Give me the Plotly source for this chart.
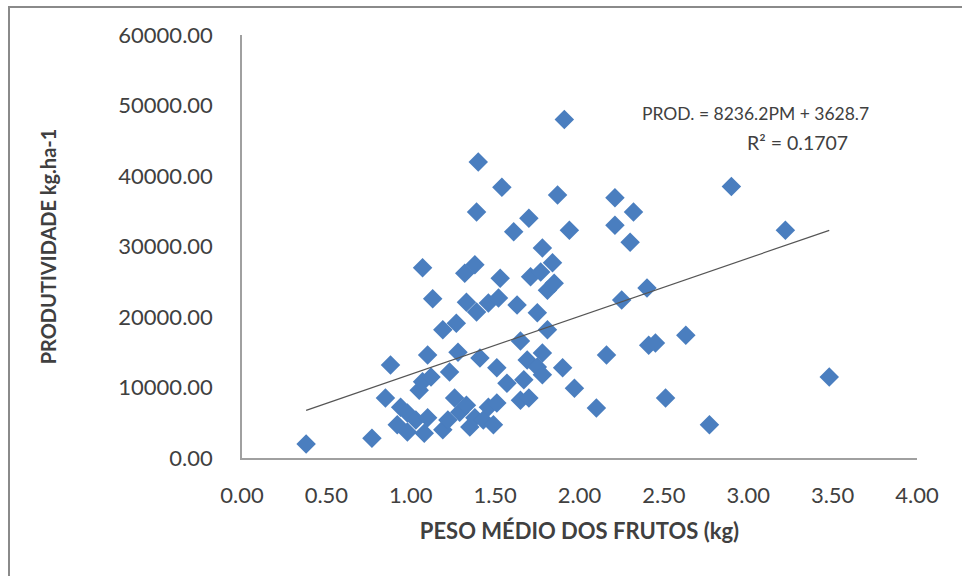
import plotly.graph_objects as go

# Data
peso_medio = [0.38, 0.77, 0.85, 0.88, 0.92, 0.94, 0.98, 0.98, 1.03, 1.05,
              1.07, 1.07, 1.08, 1.10, 1.10, 1.12, 1.13, 1.19, 1.19, 1.22,
              1.23, 1.26, 1.27, 1.28, 1.29, 1.32, 1.33, 1.33, 1.35, 1.38,
              1.38, 1.39, 1.39, 1.40, 1.41, 1.43, 1.46, 1.46, 1.49, 1.51,
              1.51, 1.52, 1.53, 1.54, 1.57, 1.61, 1.63, 1.65, 1.65, 1.67,
              1.69, 1.70, 1.70, 1.71, 1.75, 1.75, 1.77, 1.78, 1.78, 1.78,
              1.81, 1.81, 1.84, 1.85, 1.87, 1.90, 1.91, 1.94, 1.97, 2.10,
              2.16, 2.21, 2.21, 2.25, 2.30, 2.32, 2.40, 2.41, 2.45, 2.51,
              2.63, 2.77, 2.90, 3.22, 3.48]
produtividade = [2000, 2800, 8500, 13200, 4700, 7200, 6400, 3700, 5400, 9600,
                 10800, 27000, 3500, 5700, 14600, 11500, 22600, 18200, 4000, 5400,
                 12200, 8500, 19100, 15000, 6500, 26200, 22100, 7500, 4400, 27400,
                 5700, 20700, 34900, 42000, 14200, 5400, 22000, 7200, 4700, 12800,
                 7800, 22700, 25500, 38400, 10600, 32100, 21700, 16600, 8200, 11100,
                 13900, 8500, 34000, 25700, 20600, 12900, 26400, 29800, 14900, 11800,
                 23800, 18200, 27700, 24800, 37300, 12800, 48000, 32300, 9900, 7100,
                 14600, 36900, 33000, 22400, 30600, 34900, 24100, 16000, 16300, 8500,
                 17400, 4700, 38500, 32300, 11500]

# Linear trendline reported in the chart
slope = 8236.2
intercept = 3628.7
r_squared = 0.1707

x_ticks = [0, 0.5, 1, 1.5, 2, 2.5, 3, 3.5, 4]
x_tick_labels = ["0.00", "0.50", "1.00", "1.50", "2.00", "2.50", "3.00", "3.50", "4.00"]
y_ticks = [0, 10000, 20000, 30000, 40000, 50000, 60000]
y_tick_labels = ["0.00", "10000.00", "20000.00", "30000.00", "40000.00", "50000.00", "60000.00"]

trend_x = [min(peso_medio), max(peso_medio)]
trend_y = [slope * v + intercept for v in trend_x]

FONT = "Lato, 'Open Sans', sans-serif"
TXT = "#404040"

fig = go.Figure()
fig.add_trace(go.Scatter(
    x=peso_medio, y=produtividade, mode="markers",
    marker=dict(symbol="diamond", size=15, color="#4A7EBF", line=dict(width=0)),
    showlegend=False, hoverinfo="x+y"))
fig.add_trace(go.Scatter(
    x=trend_x, y=trend_y, mode="lines",
    line=dict(color="#555555", width=1.2), showlegend=False, hoverinfo="skip"))

fig.update_layout(
    width=962, height=576,
    margin=dict(l=242, r=45, t=35, b=118),
    paper_bgcolor="white", plot_bgcolor="white",
    font=dict(family=FONT, size=16, color=TXT),
    xaxis=dict(range=[0, 4], tickvals=x_ticks, ticktext=x_tick_labels,
               showgrid=False, zeroline=False, showline=True, linecolor="#A0A0A0",
               linewidth=1.5, ticks="", ticklabelstandoff=17,
               tickfont=dict(size=22, color=TXT, family=FONT),
               title=dict(text="<b>PESO MÉDIO DOS FRUTOS (kg)</b>", standoff=16,
                          font=dict(size=22, color=TXT, family=FONT))),
    yaxis=dict(range=[0, 60000], tickvals=y_ticks, ticktext=y_tick_labels,
               showgrid=False, zeroline=False, showline=True, linecolor="#A0A0A0",
               linewidth=1.5, ticks="", ticklabelstandoff=23,
               tickfont=dict(size=22, color=TXT, family=FONT),
               title=dict(text="<b>PRODUTIVIDADE kg.ha-1</b>", standoff=56,
                          font=dict(size=20, color=TXT, family=FONT))),
    annotations=[
        dict(x=3.04, y=48900, xref="x", yref="y", showarrow=False,
             text=f"PROD. = {slope}PM + {intercept}",
             font=dict(size=17.5, color=TXT, family=FONT), xanchor="center"),
        dict(x=3.29, y=44700, xref="x", yref="y", showarrow=False,
             text=f"R² = {r_squared}",
             font=dict(size=19.5, color=TXT, family=FONT), xanchor="center"),
    ],
    shapes=[
        dict(type="rect", xref="paper", yref="paper", layer="above",
             x0=(9 - 242) / 675, x1=(1000 - 242) / 675,
             y0=(458 - 600) / 423, y1=(458 - 7) / 423,
             fillcolor="rgba(0,0,0,0)",
             line=dict(color="#8A8A8A", width=2)),
    ],
)

fig.write_html("out.html", config={"displayModeBar": False},
               post_script="document.body.style.margin='0';document.body.style.overflow='hidden';")
